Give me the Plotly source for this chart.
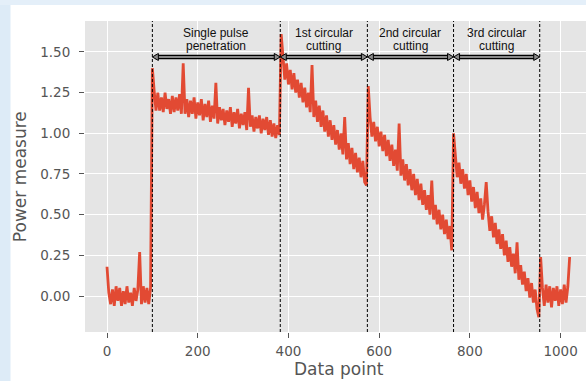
import plotly.graph_objects as go

# ---------------- data (sampled every 4th data point) ----------------
idle_start = [0.18, 0.02, -0.05, 0.04, -0.06, 0.06, -0.03, 0.05, -0.06, 0.03,
              -0.05, 0.06, -0.04, 0.02, -0.06, 0.05, -0.03, 0.04, 0.27, -0.05,
              0.06, -0.04, 0.05, -0.05, 0.05]
penetration = [1.40, 1.26, 1.14, 1.25, 1.14, 1.22, 1.13, 1.25, 1.15, 1.21,
               1.12, 1.23, 1.13, 1.22, 1.14, 1.24, 1.12, 1.43, 1.12, 1.21,
               1.10, 1.20, 1.12, 1.22, 1.09, 1.19, 1.11, 1.21, 1.08, 1.18,
               1.10, 1.20, 1.07, 1.17, 1.09, 1.31, 1.06, 1.16, 1.08, 1.15,
               1.05, 1.14, 1.07, 1.16, 1.04, 1.13, 1.06, 1.15, 1.03, 1.12,
               1.05, 1.13, 1.02, 1.28, 1.04, 1.11, 1.01, 1.10, 1.03, 1.11,
               1.00, 1.09, 1.02, 1.10, 0.99, 1.08, 0.98, 1.06, 0.97, 1.05,
               0.99]
cut1 = [1.61, 1.45, 1.33, 1.43, 1.30, 1.39, 1.27, 1.37, 1.25, 1.33,
        1.22, 1.31, 1.19, 1.28, 1.16, 1.25, 1.13, 1.42, 1.10, 1.20,
        1.07, 1.17, 1.04, 1.14, 1.01, 1.11, 0.98, 1.08, 0.96, 1.05,
        0.93, 1.02, 0.90, 1.00, 0.87, 1.10, 0.84, 0.94, 0.81, 0.91,
        0.78, 0.88, 0.76, 0.85, 0.73, 0.83, 0.70, 0.68]
cut2 = [1.29, 1.10, 0.98, 1.07, 0.95, 1.04, 0.92, 1.01, 0.89, 0.99,
        0.86, 0.96, 0.83, 0.93, 0.80, 0.90, 0.77, 1.06, 0.74, 0.84,
        0.71, 0.81, 0.68, 0.78, 0.65, 0.75, 0.62, 0.72, 0.59, 0.69,
        0.56, 0.65, 0.53, 0.62, 0.50, 0.71, 0.47, 0.56, 0.44, 0.53,
        0.41, 0.50, 0.38, 0.47, 0.35, 0.43, 0.28]
cut3 = [1.00, 0.85, 0.73, 0.82, 0.69, 0.78, 0.66, 0.75, 0.62, 0.71,
        0.58, 0.67, 0.54, 0.64, 0.51, 0.60, 0.47, 0.56, 0.70, 0.52,
        0.40, 0.49, 0.36, 0.45, 0.32, 0.41, 0.29, 0.38, 0.25, 0.34,
        0.21, 0.30, 0.18, 0.26, 0.14, 0.33, 0.10, 0.19, 0.07, 0.15,
        0.03, 0.11, -0.01, 0.08, -0.04, 0.04, -0.08, -0.13]
idle_end = [0.24, 0.05, -0.06, 0.07, -0.04, 0.06, -0.07, 0.05, -0.03, 0.06,
            -0.06, 0.04, -0.05, 0.07, -0.04, 0.06, 0.24]

SAMPLE_STEP = 4
power = idle_start + penetration + cut1 + cut2 + cut3 + idle_end
data_point = list(range(0, SAMPLE_STEP * len(power), SAMPLE_STEP))

phase_bounds = [100, 382, 574, 764, 954]
phase_labels = [("Single pulse", "penetration"), ("1st circular", "cutting"),
                ("2nd circular", "cutting"), ("3rd circular", "cutting")]
x_ticks = [0, 200, 400, 600, 800, 1000]
y_ticks = [0.0, 0.25, 0.5, 0.75, 1.0, 1.25, 1.5]

# ---------------- figure ----------------
X_RANGE = [-48.5, 1056]
Y_RANGE = [-0.221, 1.69]
ARROW_Y = 1.469

fig = go.Figure(go.Scatter(x=data_point, y=power, mode="lines",
                           line=dict(color="#E24A33", width=2.8), hoverinfo="skip"))

axis_font = dict(family="DejaVu Sans", size=13.5, color="#555555")
fig.update_layout(
    width=586, height=381,
    margin=dict(l=85, r=0, t=21, b=49, pad=0),
    paper_bgcolor="white", plot_bgcolor="#E5E5E5", showlegend=False,
    xaxis=dict(range=X_RANGE, tickvals=x_ticks, ticks="outside", ticklen=5,
               tickcolor="#555555", gridcolor="white", gridwidth=1, zeroline=False,
               showline=False, tickfont=axis_font, ticklabelstandoff=2),
    yaxis=dict(range=Y_RANGE, tickvals=y_ticks, tickformat=".2f", ticks="outside",
               ticklen=5, tickcolor="#555555", gridcolor="white", gridwidth=1,
               zeroline=False, showline=False, tickfont=axis_font, ticklabelstandoff=6),
)

shapes = []
annotations = []
# page strips (light blue border of the screenshot)
shapes.append(dict(type="rect", xref="paper", yref="paper", x0=-0.1697, x1=-0.1487,
                   y0=-0.1576, y1=1.0675, fillcolor="#DDEBF7", line=dict(width=0), layer="above"))
shapes.append(dict(type="rect", xref="paper", yref="paper", x0=-0.1697, x1=1.0,
                   y0=1.0514, y1=1.0675, fillcolor="#E4EFF9", line=dict(width=0), layer="above"))

# dashed phase boundaries
for b in phase_bounds:
    shapes.append(dict(type="line", xref="x", yref="paper", x0=b, x1=b, y0=0, y1=1,
                       line=dict(color="black", width=1, dash="3px,2px")))

px_x = (X_RANGE[1] - X_RANGE[0]) / 501.0
px_y = (Y_RANGE[1] - Y_RANGE[0]) / 311.0
head_len = 6 * px_x
head_half = 3.5 * px_y
for i, (l1, l2) in enumerate(phase_labels):
    a, b = phase_bounds[i], phase_bounds[i + 1]
    shapes.append(dict(type="line", xref="x", yref="y", x0=a + head_len * 0.5, x1=b - head_len * 0.5,
                       y0=ARROW_Y, y1=ARROW_Y, line=dict(color="black", width=4.5)))
    shapes.append(dict(type="line", xref="x", yref="y", x0=a + head_len * 0.5, x1=b - head_len * 0.5,
                       y0=ARROW_Y, y1=ARROW_Y, line=dict(color="#8a8a8a", width=2)))
    for tip, sgn in ((a, 1), (b, -1)):
        path = (f"M {tip} {ARROW_Y} L {tip + sgn * head_len} {ARROW_Y + head_half} "
                f"L {tip + sgn * head_len} {ARROW_Y - head_half} Z")
        shapes.append(dict(type="path", xref="x", yref="y", path=path,
                           fillcolor="#8a8a8a", line=dict(color="black", width=1)))
    mid = (a + b) / 2
    annotations.append(dict(x=mid, y=0.9614, xref="x", yref="paper", text=l1, showarrow=False,
                            font=dict(family="Liberation Sans", size=12, color="#111111"),
                            xanchor="center", yanchor="middle"))
    annotations.append(dict(x=mid, y=0.9212, xref="x", yref="paper", text=l2, showarrow=False,
                            font=dict(family="Liberation Sans", size=12, color="#111111"),
                            xanchor="center", yanchor="middle"))

# axis titles
title_font = dict(family="DejaVu Sans", size=17, color="#555555")
annotations.append(dict(x=0.506, y=-0.119, xref="paper", yref="paper", text="Data point",
                        showarrow=False, font=title_font, xanchor="center", yanchor="middle"))
annotations.append(dict(x=-0.1297, y=0.498, xref="paper", yref="paper", text="Power measure",
                        showarrow=False, font=title_font, textangle=-90,
                        xanchor="center", yanchor="middle"))

fig.update_layout(shapes=shapes, annotations=annotations)
fig.write_html("out.html", config={"displayModeBar": False},
               post_script="document.body.style.margin='0';document.body.style.overflow='hidden';")
